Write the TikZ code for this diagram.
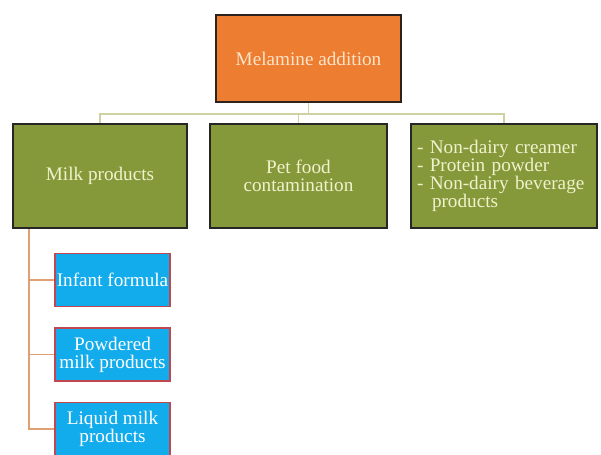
\documentclass[tikz,border=0pt]{standalone}
\usepackage{fontspec}
\setmainfont{Liberation Serif}
\usepackage{tikz}
\usetikzlibrary{calc}
\definecolor{melOrange}{RGB}{237,125,49}
\definecolor{melOlive}{RGB}{134,153,58}
\definecolor{melBlue}{RGB}{18,172,236}
\definecolor{melRed}{RGB}{192,70,80}
\definecolor{melKhaki}{RGB}{205,210,160}
\definecolor{melTan}{RGB}{225,160,115}
\definecolor{melCream}{RGB}{240,242,205}
\definecolor{melPeach}{RGB}{252,228,200}
\definecolor{melBorder}{RGB}{45,35,30}
\tikzset{
  txt/.style={font=\fontsize{9.6}{9}\selectfont},
  topbox/.style={rectangle, txt, draw=melBorder, fill=melOrange, line width=0.8pt,
                 text=melPeach, minimum width=92.5pt, minimum height=43.5pt},
  catbox/.style={rectangle, txt, draw=black!85, fill=melOlive, line width=1pt,
                 text=melCream, minimum width=87pt, minimum height=52pt, align=center},
  subbox/.style={rectangle, txt, draw=melRed, fill=melBlue, line width=0.8pt,
                 text=white, minimum width=57.5pt, minimum height=26.5pt,
                 inner xsep=0.5pt, align=center},
  busline/.style={line width=0.9pt, melKhaki},
  spineline/.style={line width=0.9pt, melTan},
}
\begin{document}
\begin{tikzpicture}[x=0.5pt, y=-0.5pt]
  \useasboundingbox (0,0) rectangle (601,455);

  % --- the root ------------------------------------------------------------
  \node[topbox] (melamine) at (308.5,58.5) {Melamine addition};

  % --- the three categories ------------------------------------------------
  \node[catbox] (milk) at (100,176) {Milk products};
  \node[catbox, minimum width=88.5pt] (petfood) at (298.5,176)
    {Pet food\\contamination};
  \node[catbox, align=left, text width=87pt, inner xsep=3pt] (nondairy) at (504,176)
    {- Non-dairy creamer\\- Protein powder\\- Non-dairy beverage\\\hspace*{7.5pt}products};

  % --- milk sub-products ---------------------------------------------------
  \node[subbox] (infant)   at (112.5,280)   {Infant formula};
  \node[subbox] (powdered) at (112.5,354.5) {Powdered\\milk products};
  \node[subbox] (liquid)   at (112.5,429)   {Liquid milk\\products};

  % --- connectors ----------------------------------------------------------
  \coordinate (bus) at ($(melamine.south)+(0,11)$);
  \draw[busline] (melamine.south) -- (bus);
  \draw[busline] (bus) -| (milk.north);
  \draw[busline] (bus) -| (petfood.north);
  \draw[busline] (bus) -| (nondairy.north);

  \coordinate (spine) at ($(milk.south west)+(17,0)$);
  \draw[spineline] (spine) |- (infant.west);
  \draw[spineline] (spine) |- (powdered.west);
  \draw[spineline] (spine) |- (liquid.west);
\end{tikzpicture}
\end{document}
